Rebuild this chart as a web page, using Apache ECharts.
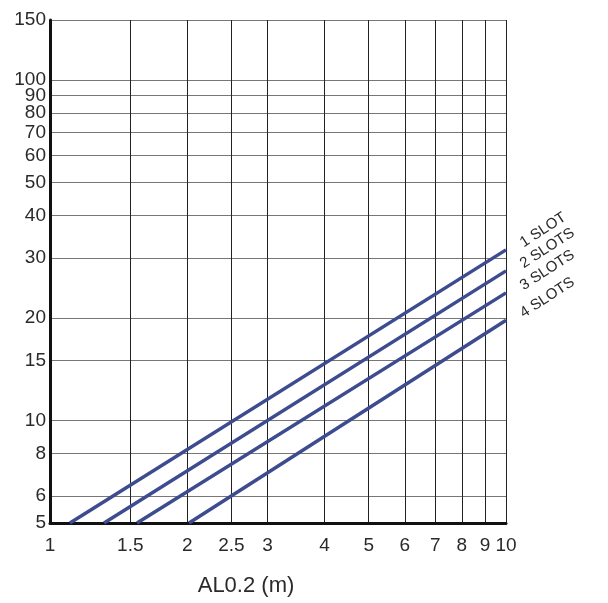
<!DOCTYPE html>
<html>
<head>
<meta charset="utf-8">
<script src="https://cdn.jsdelivr.net/npm/echarts@6/dist/echarts.min.js"></script>
<style>
  html, body { margin: 0; padding: 0; background: #fff; }
  #container { width: 608px; height: 603px; }
</style>
</head>
<body>
<div id="container"></div>
<script type="text/javascript">
    // tick / grid values
    var xTicks = [1, 1.5, 2, 2.5, 3, 4, 5, 6, 7, 8, 9, 10];
    var yTicks = [5, 6, 8, 10, 15, 20, 30, 40, 50, 60, 70, 80, 90, 100, 150];

    var seriesNames = ['1 SLOT', '2 SLOTS', '3 SLOTS', '4 SLOTS'];
    // each line: start point on y=5, end point on x=10
    var slot1 = [[1.106, 5], [10, 31.7]];
    var slot2 = [[1.314, 5], [10, 27.5]];
    var slot3 = [[1.552, 5], [10, 23.7]];
    var slot4 = [[2.018, 5], [10, 19.7]];
    var slotData = [slot1, slot2, slot3, slot4];

    var dom = document.getElementById("container");
    var myChart = echarts.init(dom);

    var series = [];
    for (var i = 0; i < slotData.length; i++) {
        series.push({
            name: seriesNames[i],
            type: 'line',
            data: slotData[i],
            symbol: 'none',
            silent: true,
            lineStyle: { color: '#3d4b8f', width: 3.5 },
            endLabel: {
                show: true,
                formatter: '{a}',
                rotate: 33,
                distance: 12,
                offset: [6, -3],   // offset is in the rotated frame
                color: '#2a2a2a',
                fontSize: 15,
                fontFamily: 'Liberation Sans'
            }
        });
    }

    var option = {
        animation: false,
        grid: { left: 50, right: 102, top: 20, bottom: 80 },
        xAxis: {
            type: 'log',
            logBase: 10,
            min: 1,
            max: 10,
            name: 'AL0.2 (m)',
            nameLocation: 'middle',
            nameGap: 52,
            nameTextStyle: {
                fontSize: 22,
                color: '#2a2a2a',
                fontFamily: 'Liberation Sans',
                padding: [0, 64, 0, 0]
            },
            axisLine: { show: true, lineStyle: { color: '#111', width: 3 } },
            axisTick: { show: false, customValues: xTicks },
            axisLabel: {
                customValues: xTicks,
                color: '#2a2a2a',
                fontSize: 19,
                fontFamily: 'Liberation Sans',
                margin: 13
            },
            splitLine: { show: true, lineStyle: { color: '#222', width: 1 } }
        },
        yAxis: {
            type: 'log',
            logBase: 10,
            min: 5,
            max: 150,
            axisLine: { show: true, lineStyle: { color: '#111', width: 3 } },
            axisTick: { show: false, customValues: yTicks },
            axisLabel: {
                customValues: yTicks,
                color: '#2a2a2a',
                fontSize: 19,
                fontFamily: 'Liberation Sans',
                margin: 4
            },
            splitLine: { show: true, lineStyle: { color: '#777', width: 1 } }
        },
        series: series
    };

    myChart.setOption(option);
</script>
</body>
</html>
